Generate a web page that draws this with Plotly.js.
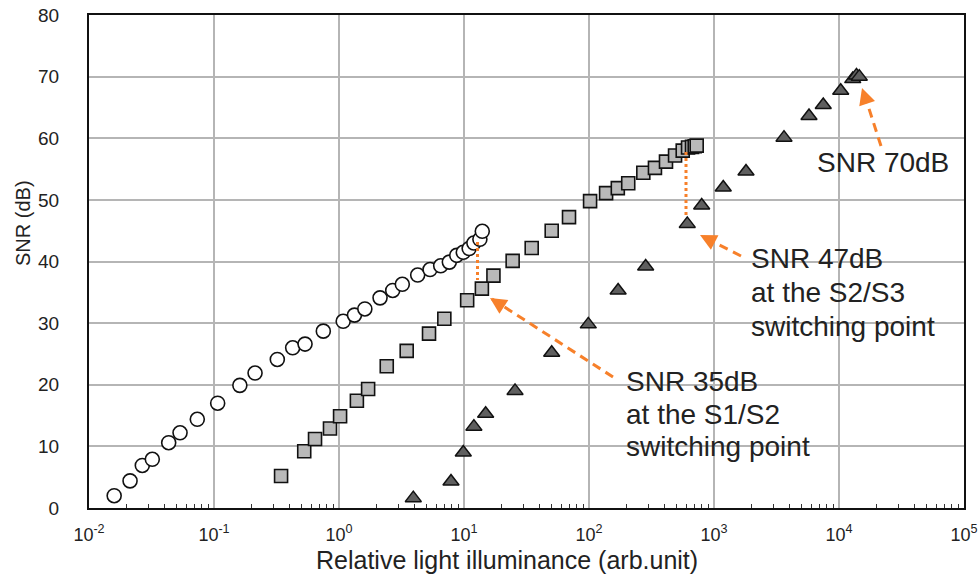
<!DOCTYPE html>
<html><head><meta charset="utf-8">
<script src="https://cdn.plot.ly/plotly-3.0.1.min.js"></script>
<style>html,body{margin:0;padding:0;background:#fff}#chart{width:979px;height:577px}</style>
</head><body><div id="chart"></div>
<script>
// ---- data ----
const s1X = [0.0159,0.0213,0.0267,0.0321,0.0434,0.0535,0.0735,0.107,0.161,0.213,0.321,0.426,0.535,0.749,1.08,1.33,1.61,2.13,2.69,3.21,4.26,5.35,6.51,7.63,8.75,9.87,11.0,12.0,13.4,14.0];
const s1Y = [2.0,4.4,6.9,7.9,10.6,12.2,14.4,17.0,19.9,21.9,24.1,26.0,26.6,28.7,30.3,31.3,32.3,34.1,35.3,36.3,37.8,38.7,39.3,39.9,41.0,41.5,42.1,43.0,43.6,44.9];
const s2X = [0.344,0.527,0.643,0.847,1.02,1.39,1.71,2.41,3.48,5.25,6.96,10.6,13.9,17.2,24.5,34.8,50.3,69.2,102,137,170,206,272,337,413,488,562,620,667,701,727];
const s2Y = [5.2,9.2,11.2,12.9,14.9,17.4,19.3,23.0,25.5,28.3,30.7,33.7,35.6,37.7,40.1,42.2,45.0,47.2,49.8,51.1,51.9,52.7,54.4,55.2,56.2,57.2,58.0,58.5,58.6,58.7,58.8];
const s3X = [3.93,7.87,9.87,12.0,14.9,25.6,50.3,98.7,171,284,611,797,1186,1803,3631,5754,7482,10320,12880,13800,14530];
const s3Y = [1.6,4.3,9.0,13.2,15.3,19.0,25.2,29.8,35.3,39.2,46.1,49.1,52.0,54.6,60.1,63.6,65.4,67.7,69.6,70.2,70.0];
const xTickVals = [0.01,0.1,1,10,100,1000,10000,100000];
const xTickText = ['10<sup>-2</sup>','10<sup>-1</sup>','10<sup>0</sup>','10<sup>1</sup>','10<sup>2</sup>','10<sup>3</sup>','10<sup>4</sup>','10<sup>5</sup>'];
const yTickVals = [0,10,20,30,40,50,60,70,80];
const noteLines1 = ['SNR 35dB','at the S1/S2','switching point'];
const noteLines2 = ['SNR 47dB','at the S2/S3','switching point'];
const noteLines3 = ['SNR 70dB'];

// minor tick positions 2..9 per decade
const minorVals = [];
for (let d=-2; d<5; d++) for (let k=2; k<10; k++) minorVals.push(k*Math.pow(10,d));

// ---- layout helpers (pixel -> paper) ----
const L=89, R=964, T=15, B=508;
const px = x => (x-L)/(R-L);
const py = y => (B-y)/(B-T);
const ORANGE = '#f7802a';
const FONT = '"Liberation Sans", Arial, sans-serif';
const TXT = '#222';

const traces = [
  {x:s1X, y:s1Y, type:'scatter', mode:'markers', name:'S1',
   marker:{symbol:'circle', size:14, color:'#ffffff', line:{color:'#111', width:1.6}}},
  {x:s2X, y:s2Y, type:'scatter', mode:'markers', name:'S2',
   marker:{symbol:'square', size:13, color:'#b9b9b9', line:{color:'#111', width:1.6}}},
  {x:s3X, y:s3Y, type:'scatter', mode:'markers', name:'S3',
   marker:{symbol:'triangle-up', size:14, color:'#5f5f5f', line:{color:'#111', width:1.5}}}
];

const shapes = [
  // dotted switching drops
  {type:'line', xref:'paper', yref:'paper', x0:px(477.5), x1:px(477.5), y0:py(242), y1:py(280), line:{color:ORANGE, width:3, dash:'dot'}},
  {type:'line', xref:'paper', yref:'paper', x0:px(686), x1:px(686), y0:py(152), y1:py(217), line:{color:ORANGE, width:3, dash:'dot'}},
  // dashed arrows
  {type:'line', xref:'paper', yref:'paper', x0:px(613), y0:py(377), x1:px(492), y1:py(299), line:{color:ORANGE, width:3, dash:'9px,6px'}},
  {type:'line', xref:'paper', yref:'paper', x0:px(741), y0:py(256), x1:px(702), y1:py(236), line:{color:ORANGE, width:3, dash:'9px,6px'}},
  {type:'line', xref:'paper', yref:'paper', x0:px(881), y0:py(146), x1:px(863), y1:py(90), line:{color:ORANGE, width:3, dash:'9px,6px'}}
];

function head(hx, hy, tx, ty){
  const dx=tx-hx, dy=ty-hy, n=Math.hypot(dx,dy), l=10;
  return {xref:'paper', yref:'paper', x:px(hx), y:py(hy), ax:dx/n*l, ay:dy/n*l, text:'',
          showarrow:true, arrowhead:2, arrowsize:1.1, arrowwidth:3, arrowcolor:ORANGE, standoff:0};
}
function textLines(lines, x, yFirst, step){
  return lines.map((t,i)=>({xref:'paper', yref:'paper', x:px(x), y:py(yFirst+i*step), text:t,
    xanchor:'left', yanchor:'middle', showarrow:false, font:{family:FONT, size:28, color:TXT}}));
}

const annotations = [
  head(490,298,613,377),
  head(700,235,741,256),
  head(862,88,881,146),
  ...textLines(noteLines1, 624, 382, 32.2),
  ...textLines(noteLines2, 749, 258, 34),
  ...textLines(noteLines3, 815, 162, 0),
  {xref:'paper', yref:'paper', x:px(507), y:py(560), text:'Relative light illuminance (arb.unit)', showarrow:false,
   xanchor:'center', yanchor:'middle', font:{family:FONT, size:25, color:TXT}},
  {xref:'paper', yref:'paper', x:px(23), y:py(223), text:'SNR (dB)', showarrow:false, textangle:-90,
   xanchor:'center', yanchor:'middle', font:{family:FONT, size:20, color:TXT}}
];

const layout = {
  width:979, height:577,
  margin:{l:L, r:979-R, t:T, b:577-B},
  paper_bgcolor:'#fff', plot_bgcolor:'#fff',
  showlegend:false,
  font:{family:FONT, color:TXT},
  xaxis:{type:'log', range:[-2,5], tickmode:'array', tickvals:xTickVals, ticktext:xTickText,
    showgrid:true, gridcolor:'#b5b5b5', gridwidth:2,
    showline:true, mirror:true, linecolor:'#111', linewidth:2,
    ticks:'', ticklabelstandoff:9, tickfont:{family:FONT, size:18, color:TXT},
    minor:{tickmode:'array', tickvals:minorVals, ticks:'inside', ticklen:4, tickwidth:1.2, tickcolor:'#333', showgrid:false},
    zeroline:false, fixedrange:true},
  yaxis:{range:[0,80], tickmode:'array', tickvals:yTickVals,
    showgrid:true, gridcolor:'#b5b5b5', gridwidth:2,
    showline:true, mirror:true, linecolor:'#111', linewidth:2,
    ticks:'', ticklabelstandoff:24, tickfont:{family:FONT, size:19, color:TXT},
    zeroline:false, fixedrange:true},
  shapes, annotations
};

Plotly.newPlot('chart', traces, layout, {staticPlot:true, displayModeBar:false});
</script>
</body></html>
